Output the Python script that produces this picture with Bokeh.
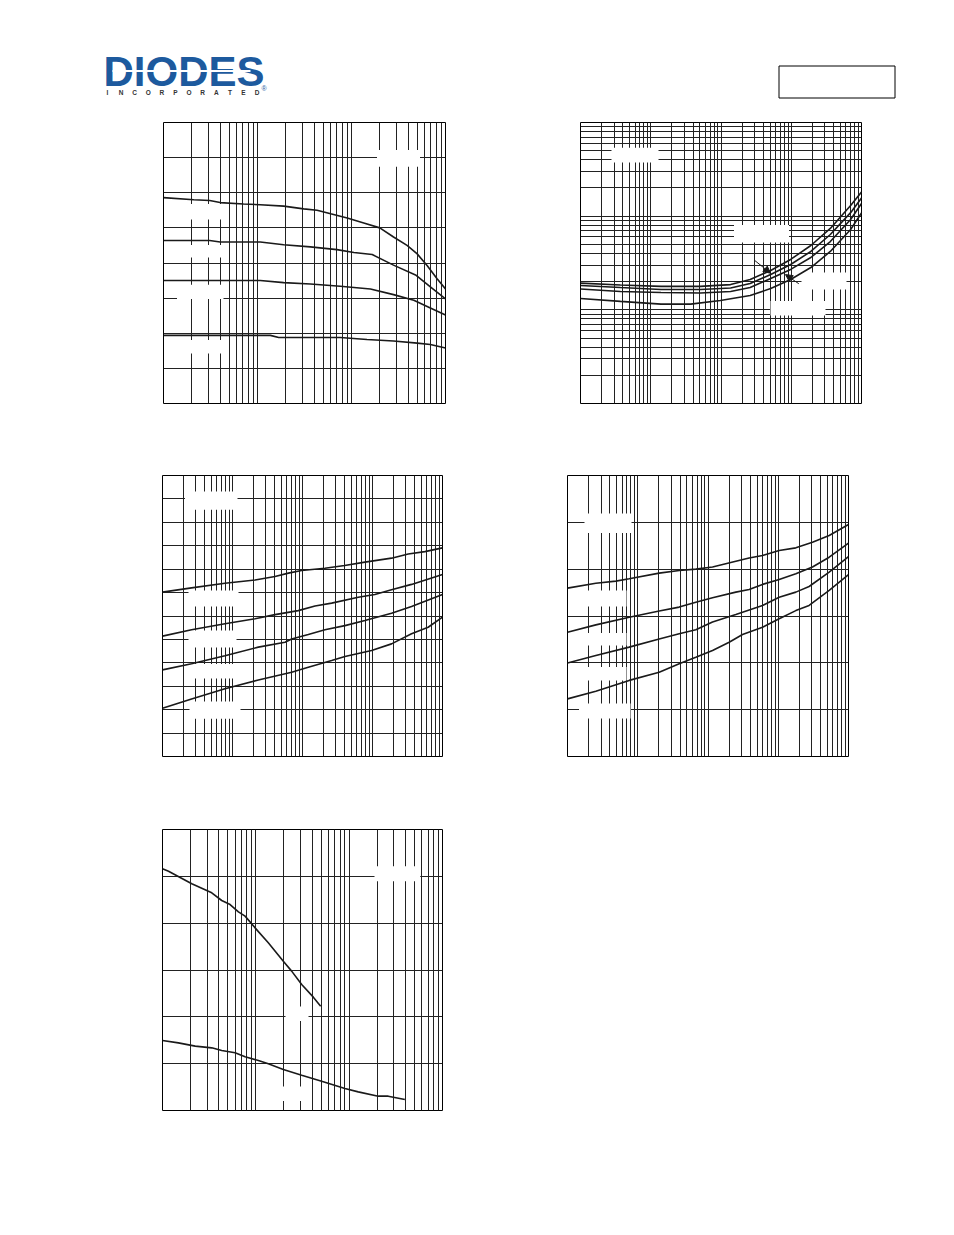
import math
from bokeh.plotting import figure
from bokeh.models import Range1d, FixedTicker, Grid, Spacer, Arrow, NormalHead
from bokeh.layouts import column, row
from bokeh.core.properties import value
from bokeh.embed import file_html
from bokeh.resources import INLINE

# ---------------- data ----------------
# Chart 1: hFE vs IC (mA), 4 temperatures
C1_XA = [0.1, 0.21, 0.31, 0.4, 0.71, 1.07, 1.9, 3.1, 4.3, 6.0, 9.0, 13.5, 20, 28, 39, 50, 64, 81, 100]
C1_YA = [293, 290, 289, 286, 284, 283, 281, 277, 275, 270, 264, 257, 250, 237, 225, 213, 196, 178, 163]
C1_XB = [0.1, 0.31, 0.4, 1.07, 1.9, 3.65, 7.0, 10.6, 16.6, 28, 48, 69, 100]
C1_YB = [232, 232, 230, 230, 226, 223, 219, 215, 212, 197, 183, 166, 149]
C1_XC = [0.1, 1.07, 1.9, 3.65, 7.6, 15.9, 28, 46, 69, 100]
C1_YC = [175, 175, 172, 170, 167, 163, 155, 147, 136, 126]
C1_XD = [0.1, 1.37, 1.68, 7.6, 14.6, 28, 50, 69, 100]
C1_YD = [97, 97, 94, 94, 91, 89, 86, 84, 79]

# Chart 2: VCE(sat) vs IC, log-log
C2_X = [0.1, 0.37, 1.4, 5.1, 13.7, 26, 51, 98, 190, 360, 700, 1000]
C2_XD = [0.1, 0.37, 1.4, 3.7, 9.8, 26, 51, 98, 190, 360, 700, 1000]
C2_YA = [0.193, 0.184, 0.178, 0.178, 0.186, 0.211, 0.263, 0.345, 0.486, 0.739, 1.30, 1.81]
C2_YB = [0.182, 0.173, 0.165, 0.165, 0.171, 0.191, 0.238, 0.305, 0.420, 0.637, 1.09, 1.56]
C2_YC = [0.167, 0.157, 0.153, 0.151, 0.157, 0.173, 0.216, 0.270, 0.362, 0.536, 0.921, 1.365]
C2_YD = [0.132, 0.123, 0.115, 0.115, 0.126, 0.142, 0.169, 0.211, 0.283, 0.420, 0.720, 1.08]
C2_ARROW1 = (30.3, 0.336, 50.7, 0.246)
C2_ARROW2 = (128, 0.190, 82.8, 0.238)

# Chart 3: VBE(on) vs IC
C3_XA = [0.1, 0.26, 0.78, 2.1, 4.05, 6.3, 9.7, 20.9, 40, 78, 187, 324, 560, 1000]
C3_YA = [0.702, 0.720, 0.740, 0.754, 0.769, 0.783, 0.794, 0.804, 0.816, 0.830, 0.847, 0.865, 0.875, 0.891]
C3_XB = [0.1, 0.26, 0.78, 2.1, 4.05, 8.7, 15.1, 26.1, 62.6, 108, 187, 361, 1000]
C3_YB = [0.514, 0.541, 0.567, 0.588, 0.606, 0.623, 0.643, 0.655, 0.680, 0.692, 0.712, 0.735, 0.777]
C3_XC = [0.1, 0.26, 0.45, 0.78, 2.34, 5.63, 7.0, 12.1, 20.9, 40.4, 77.9, 187, 361, 1000]
C3_YC = [0.370, 0.396, 0.413, 0.430, 0.467, 0.488, 0.502, 0.521, 0.541, 0.559, 0.581, 0.612, 0.641, 0.692]
C3_XD = [0.1, 0.26, 0.78, 2.34, 7.0, 12.1, 26.1, 40.4, 97, 187, 361, 624, 1000]
C3_YD = [0.206, 0.246, 0.289, 0.327, 0.360, 0.381, 0.410, 0.427, 0.453, 0.481, 0.524, 0.552, 0.595]

# Chart 4: VBE(sat) vs IC
C4_XA = [0.1, 0.253, 0.488, 0.755, 2.02, 3.89, 6.71, 11.6, 24.9, 38.5, 59.7, 103, 178, 307, 531, 1000]
C4_YA = [0.719, 0.740, 0.749, 0.759, 0.783, 0.794, 0.800, 0.809, 0.834, 0.848, 0.858, 0.880, 0.891, 0.915, 0.944, 0.991]
C4_XB = [0.1, 0.253, 0.755, 2.02, 3.89, 6.71, 11.6, 24.9, 38.5, 59.7, 103, 178, 307, 531, 1000]
C4_YB = [0.531, 0.562, 0.595, 0.621, 0.638, 0.659, 0.678, 0.702, 0.713, 0.735, 0.756, 0.780, 0.809, 0.851, 0.911]
C4_XC = [0.1, 0.253, 0.755, 2.02, 3.89, 6.71, 11.6, 24.9, 31.0, 59.7, 103, 178, 275, 531, 1000]
C4_YC = [0.399, 0.431, 0.467, 0.502, 0.524, 0.541, 0.574, 0.606, 0.616, 0.645, 0.680, 0.702, 0.726, 0.787, 0.854]
C4_XD = [0.1, 0.253, 0.755, 2.02, 3.89, 6.71, 11.6, 20.0, 31.0, 59.7, 103, 178, 275, 531, 1000]
C4_YD = [0.246, 0.279, 0.325, 0.360, 0.396, 0.424, 0.453, 0.488, 0.521, 0.552, 0.588, 0.623, 0.645, 0.709, 0.777]

# Chart 5: capacitance vs reverse voltage
C5_XI = [0.1, 0.116, 0.206, 0.337, 0.431, 0.530, 0.651, 0.767, 0.981, 1.36, 1.97, 2.42, 3.10, 4.13, 4.95]
C5_YI = [25.8, 25.55, 24.2, 23.24, 22.42, 21.99, 21.21, 20.75, 19.5, 17.9, 15.94, 14.88, 13.45, 12.1, 11.14]
C5_XO = [0.1, 0.148, 0.224, 0.337, 0.431, 0.599, 0.767, 1.065, 1.36, 1.97, 3.10, 5.07, 9.01, 12.5, 20.5, 26.2, 39.5]
C5_YO = [7.47, 7.22, 6.87, 6.69, 6.41, 6.16, 5.73, 5.34, 4.98, 4.38, 3.77, 3.13, 2.35, 1.99, 1.53, 1.53, 1.17]

# Grid tick positions
def log_ticks(d0, d1):
    return [m * 10.0 ** k for k in range(d0, d1) for m in range(1, 10)][1:]

C1_XT, C1_YT = log_ticks(-1, 2), [50 * i for i in range(1, 8)]
C2_XT, C2_YT = log_ticks(-1, 3), log_ticks(-2, 1)
C3_XT, C3_YT = log_ticks(-1, 3), [round(0.1 * i, 2) for i in range(1, 12)]
C4_XT, C4_YT = log_ticks(-1, 3), [round(0.2 * i, 2) for i in range(1, 6)]
C5_XT, C5_YT = log_ticks(-1, 2), [5 * i for i in range(1, 6)]

# ---------------- styling / layout ----------------
INK = "#1a1a1a"
GRID = "#222222"
BLUE = "#1d5a9e"
MB = 2
ORIGIN = 0  # layout starts at the page's top-left corner


def chart(frame, xr, yr, xlog, ylog, xt, yt, boxes):
    fl, ft, fw, fh = frame
    p = figure(width=fw + 2 * MB, height=fh + 2 * MB,
               x_axis_type="log" if xlog else "linear",
               y_axis_type="log" if ylog else "linear",
               x_range=Range1d(*xr), y_range=Range1d(*yr),
               x_axis_location=None, y_axis_location=None,
               toolbar_location=None, output_backend="svg", min_border=MB,
               outline_line_color="black", outline_line_width=1,
               background_fill_color="white", border_fill_color="white")
    p.center = [c for c in p.center if not isinstance(c, Grid)]
    for dim, ticks in ((0, xt), (1, yt)):
        p.add_layout(Grid(dimension=dim, ticker=FixedTicker(ticks=ticks),
                          grid_line_color=GRID, grid_line_width=1))

    def fx(px):
        f = (px - fl) / fw
        if xlog:
            a, b = math.log10(xr[0]), math.log10(xr[1])
            return 10 ** (a + f * (b - a))
        return xr[0] + f * (xr[1] - xr[0])

    def fy(py):
        f = (ft + fh - py) / fh
        if ylog:
            a, b = math.log10(yr[0]), math.log10(yr[1])
            return 10 ** (a + f * (b - a))
        return yr[0] + f * (yr[1] - yr[0])

    if boxes:
        p.quad(left=[fx(b[0]) for b in boxes], right=[fx(b[2]) for b in boxes],
               top=[fy(b[1]) for b in boxes], bottom=[fy(b[3]) for b in boxes],
               fill_color="white", line_color=None)
    return p


def curve(p, xs, ys):
    p.line(xs, ys, line_color=INK, line_width=1.6)


# frames in page pixels: left, top, width, height
F1 = (163, 122, 282, 281)
F2 = (580, 122, 281, 281)
F3 = (162, 475, 280, 281)
F4 = (567, 475, 281, 281)
F5 = (162, 829, 280, 281)

p1 = chart(F1, (0.1, 100), (0, 400), True, False, C1_XT, C1_YT,
           [(186, 203.5, 224, 219), (186, 244.5, 224, 257), (176.5, 284.3, 223, 298.5),
            (186, 339.5, 224, 353), (376.5, 149.5, 419.5, 166.3)])
for xs, ys in ((C1_XA, C1_YA), (C1_XB, C1_YB), (C1_XC, C1_YC), (C1_XD, C1_YD)):
    curve(p1, xs, ys)

p2 = chart(F2, (0.1, 1000), (0.01, 10), True, True, C2_XT, C2_YT,
           [(611, 147.3, 658, 162), (733.5, 224.5, 788.5, 242), (801, 272, 846, 289),
            (770, 300.5, 825, 315)])
for xs, ys in ((C2_X, C2_YA), (C2_X, C2_YB), (C2_X, C2_YC), (C2_XD, C2_YD)):
    curve(p2, xs, ys)
for a in (C2_ARROW1, C2_ARROW2):
    p2.add_layout(Arrow(end=NormalHead(size=7, fill_color=INK, line_color=INK),
                        x_start=a[0], y_start=a[1], x_end=a[2], y_end=a[3],
                        line_color=INK, line_width=1))

p3 = chart(F3, (0.1, 1000), (0, 1.2), True, False, C3_XT, C3_YT,
           [(184.5, 491, 237, 509.3), (188, 590, 238, 606), (188, 630, 236, 647),
            (188, 663.5, 238, 678), (189, 701, 240, 718.3)])
for xs, ys in ((C3_XA, C3_YA), (C3_XB, C3_YB), (C3_XC, C3_YC), (C3_XD, C3_YD)):
    curve(p3, xs, ys)

p4 = chart(F4, (0.1, 1000), (0, 1.2), True, False, C4_XT, C4_YT,
           [(584, 513, 631, 532.5), (584, 590, 626, 606), (584, 632.5, 626, 645),
            (584, 666.5, 626, 680), (578.5, 703, 630, 718)])
for xs, ys in ((C4_XA, C4_YA), (C4_XB, C4_YB), (C4_XC, C4_YC), (C4_XD, C4_YD)):
    curve(p4, xs, ys)

p5 = chart(F5, (0.1, 100), (0, 30), True, False, C5_XT, C5_YT,
           [(374, 865.7, 419.7, 880.7), (285, 1006, 308, 1020.5), (281, 1086, 305, 1100.5)])
curve(p5, C5_XI, C5_YI)
curve(p5, C5_XO, C5_YO)

# ---------------- header (logo + part-number box) ----------------
HEAD_H = F1[1] - MB - ORIGIN
hdr = figure(width=938, height=HEAD_H, x_range=Range1d(ORIGIN, ORIGIN + 938),
             y_range=Range1d(ORIGIN + HEAD_H, ORIGIN),
             x_axis_location=None, y_axis_location=None, toolbar_location=None,
             output_backend="svg", min_border=0, outline_line_color=None)
hdr.xgrid.visible = False
hdr.ygrid.visible = False
hdr.text(x=[103], y=[71], text=["DIODES"], text_font=value("Liberation Sans"),
         text_font_style="bold", text_font_size="42px", text_color=BLUE,
         text_baseline="middle", text_align="left")
hdr.segment(x0=[112], y0=[70.5], x1=[250], y1=[70.5], line_color="white", line_width=2)
letters = list("INCORPORATED")
hdr.text(x=[107 + i * 13.6 for i in range(len(letters))], y=[91.5] * len(letters), text=letters,
         text_font=value("Liberation Sans"), text_font_style="bold", text_font_size="6.5px",
         text_color="#333333", text_baseline="middle", text_align="center")
hdr.text(x=[261], y=[88], text=["®"], text_font=value("Liberation Sans"), text_font_size="7px",
         text_color=BLUE, text_baseline="middle", text_align="left")
hdr.quad(left=[778.5], right=[894.5], top=[65.5], bottom=[97.5], fill_color=None,
         line_color="black", line_width=1)


def sp(w, h):
    return Spacer(width=w, height=h)


FH = 281 + 2 * MB
r1 = row(sp(F1[0] - MB - ORIGIN, FH), p1, sp(F2[0] - (F1[0] + F1[2] + MB) - MB, FH), p2)
r2 = row(sp(F3[0] - MB - ORIGIN, FH), p3, sp(F4[0] - (F3[0] + F3[2] + MB) - MB, FH), p4)
r3 = row(sp(F5[0] - MB - ORIGIN, FH), p5)
layout = column(hdr, r1,
                sp(10, F3[1] - (F1[1] + F1[3]) - 2 * MB), r2,
                sp(10, F5[1] - (F3[1] + F3[3]) - 2 * MB), r3)

open("out.html", "w").write(file_html(layout, INLINE))
